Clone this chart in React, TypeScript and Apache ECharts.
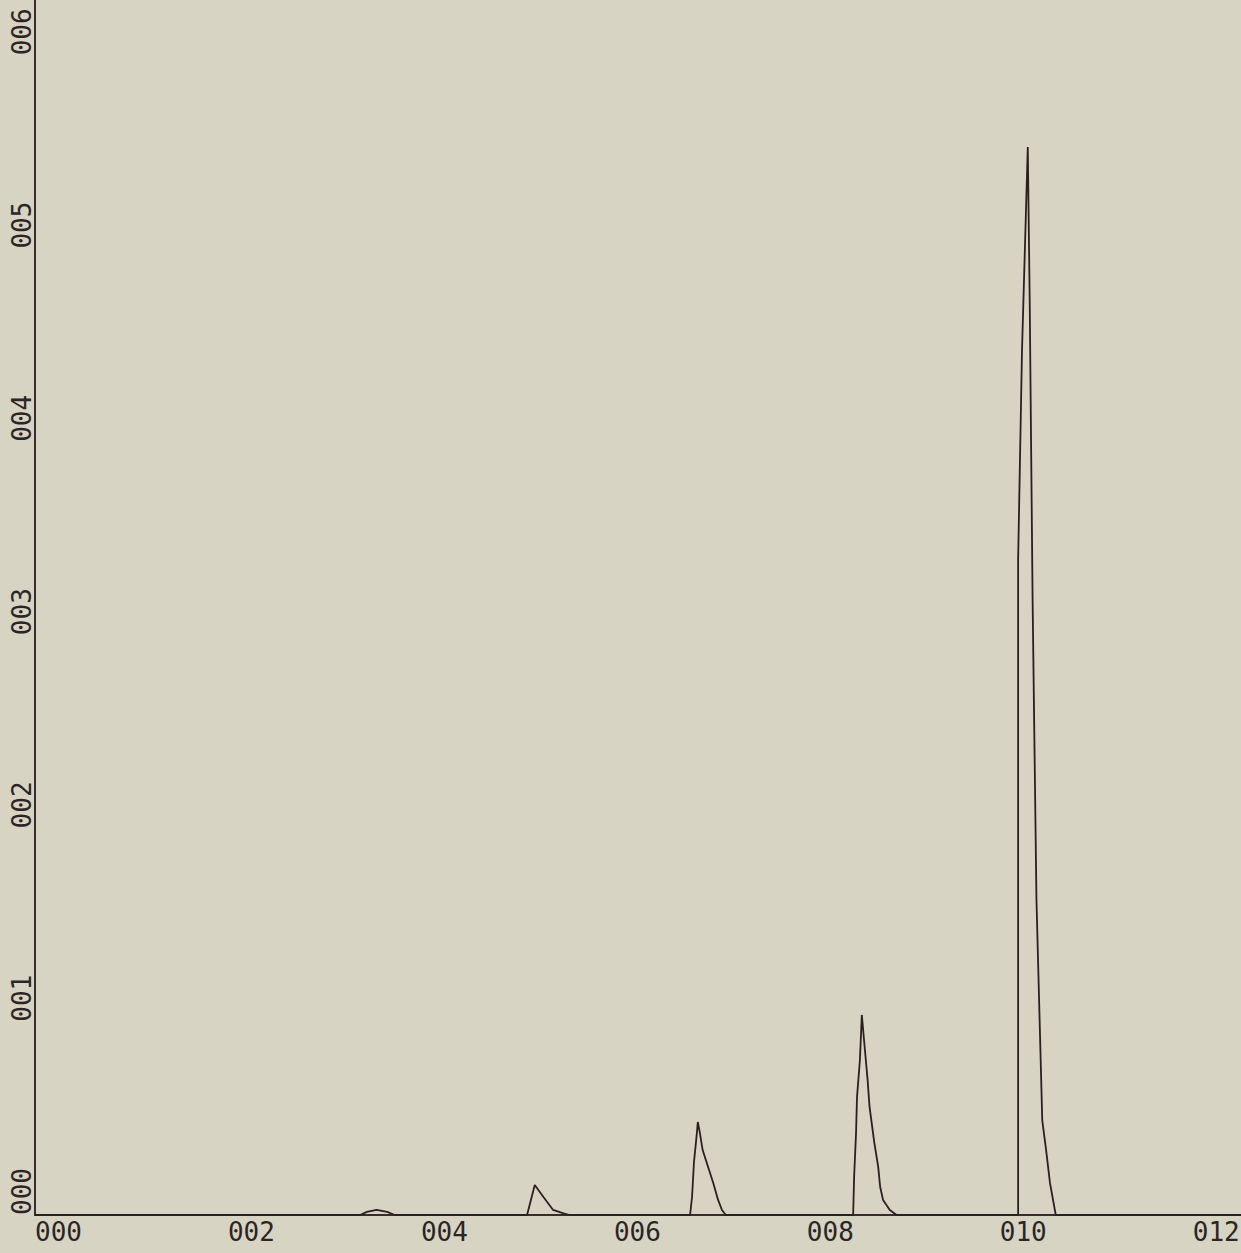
import React, { useEffect, useRef } from "react";
import * as echarts from "echarts";

// Chromatogram-like trace: [time, signal]
const baseline: number[][] = [[0, 0]];
const peakA: number[][] = [
  [3.37, 0], [3.44, 0.016], [3.54, 0.026], [3.65, 0.016], [3.73, 0],
];
const peakB: number[][] = [
  [5.10, 0], [5.18, 0.155], [5.27, 0.093], [5.37, 0.026], [5.47, 0.01], [5.54, 0],
];
const peakC: number[][] = [
  [6.79, 0], [6.81, 0.093], [6.82, 0.181], [6.83, 0.274], [6.85, 0.372], [6.86, 0.424],
  [6.87, 0.481], [6.89, 0.429], [6.92, 0.336], [6.96, 0.274], [7.03, 0.166],
  [7.08, 0.078], [7.12, 0.026], [7.16, 0],
];
const peakD: number[][] = [
  [8.48, 0], [8.49, 0.197], [8.51, 0.424], [8.52, 0.61], [8.55, 0.802], [8.57, 1.035],
  [8.59, 0.921], [8.63, 0.698], [8.65, 0.559], [8.70, 0.372], [8.74, 0.248],
  [8.76, 0.145], [8.79, 0.078], [8.86, 0.026], [8.93, 0],
];
const peakE: number[][] = [
  [10.19, 0], [10.19, 3.39], [10.23, 4.47], [10.29, 5.525], [10.31, 4.73],
  [10.34, 3.18], [10.38, 1.63], [10.44, 0.49], [10.48, 0.336], [10.52, 0.166], [10.58, 0],
];
const tail: number[][] = [[12.5, 0]];

const xTickValues = [0, 2, 4, 6, 8, 10, 12];
const yTickValues = [0, 1, 2, 3, 4, 5, 6];

const pad3 = (v: number) => String(v).padStart(3, "0");

export default function App() {
  const ref = useRef<HTMLDivElement>(null);
  useEffect(() => {
    if (!ref.current) return;
    const chart = echarts.init(ref.current, undefined, { renderer: "svg" });
    const data = [...baseline, ...peakA, ...peakB, ...peakC, ...peakD, ...peakE, ...tail];
    const axisColor = "#3a2c2e";
    const textColor = "#2b2526";
    chart.setOption({
      animation: false,
      backgroundColor: "#d7d4c3",
      grid: { left: 35, right: 0, top: 0, bottom: 38, outerBoundsMode: "none" },
      xAxis: {
        type: "value",
        min: 0,
        max: 12.5,
        interval: 2,
        axisLine: { show: true, lineStyle: { color: axisColor, width: 2 } },
        axisTick: { show: false },
        splitLine: { show: false },
        axisLabel: {
          show: true,
          formatter: (v: number) => (xTickValues.includes(v) ? pad3(v) : ""),
          fontFamily: "DejaVu Sans Mono",
          fontSize: 26,
          color: textColor,
          align: "left",
          verticalAlign: "middle",
          margin: 17,
          showMaxLabel: true,
          showMinLabel: true,
        },
      },
      yAxis: {
        type: "value",
        min: 0,
        max: 6.286,
        interval: 1,
        axisLine: { show: true, lineStyle: { color: axisColor, width: 2 } },
        axisTick: { show: false },
        splitLine: { show: false },
        axisLabel: {
          show: true,
          rotate: 90,
          formatter: (v: number) => (yTickValues.includes(v) ? pad3(v) : ""),
          fontFamily: "DejaVu Sans Mono",
          fontSize: 26,
          color: textColor,
          align: "left",
          verticalAlign: "middle",
          margin: 13,
        },
      },
      series: [
        {
          type: "line",
          data,
          showSymbol: false,
          symbol: "none",
          lineStyle: { color: "#2a2020", width: 1.8 },
          clip: false,
        },
      ],
    });
    return () => chart.dispose();
  }, []);
  return (
    <div
      ref={ref}
      style={{ position: "fixed", left: 0, top: 0, width: 1241, height: 1253 }}
    />
  );
}
